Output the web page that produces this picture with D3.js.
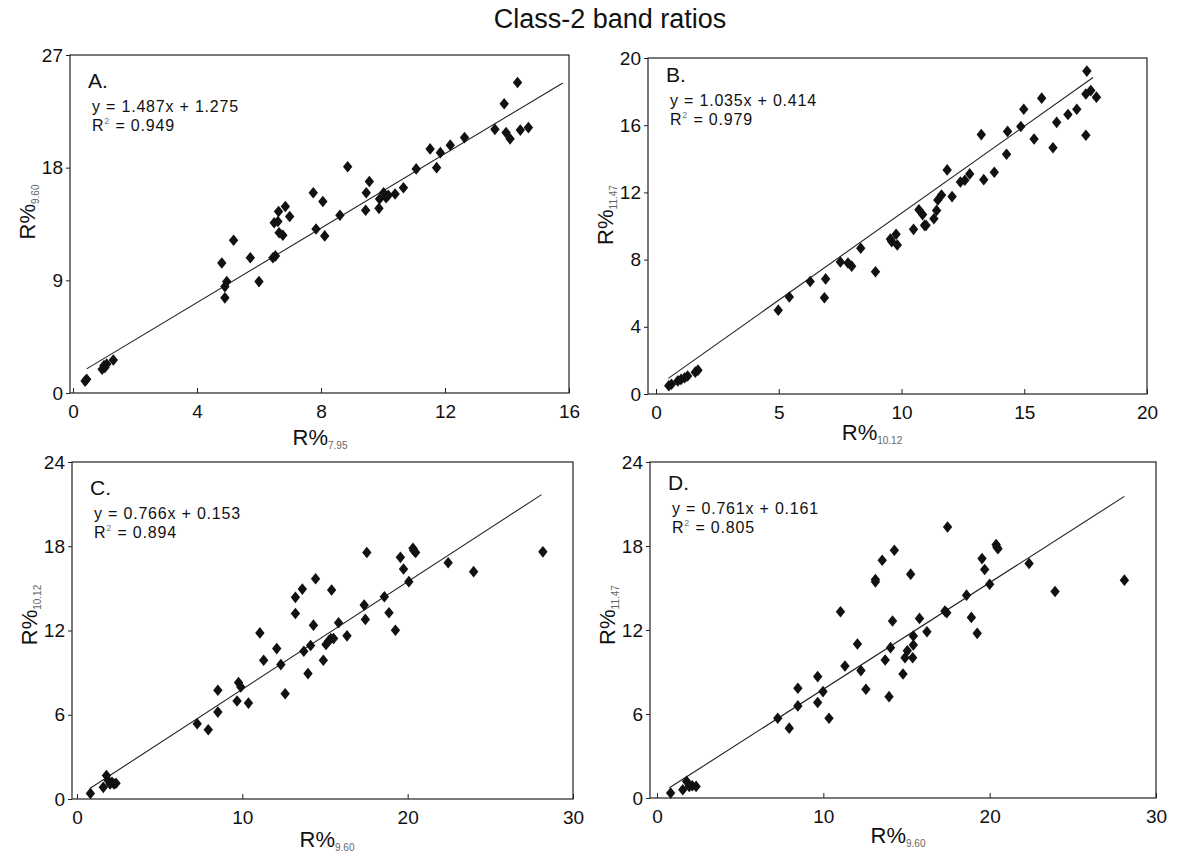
<!DOCTYPE html>
<html>
<head>
<meta charset="utf-8">
<script src="https://cdn.jsdelivr.net/npm/d3@7"></script>
<style>
  body { margin: 0; background: #fff; }
  svg text { font-family: "Liberation Sans", Arial, sans-serif; fill: #111; }
</style>
</head>
<body>
<div id="chart"></div>
<script>
// points, [x, y] in R%
const pointsA = [[0.39,0.95],[0.44,1.09],[0.94,1.9],[1.0,2.2],[1.03,2.04],[1.09,2.31],[1.3,2.64],
  [4.8,10.38],[4.9,8.5],[4.96,8.9],[4.9,7.6],[5.18,12.2],[5.72,10.8],[6.0,8.9],[6.45,10.8],[6.53,10.95],
  [6.49,13.6],[6.61,13.7],[6.63,14.5],[6.65,12.8],[6.77,12.6],[6.85,14.9],[6.99,14.1],[7.75,16.0],
  [7.84,13.1],[8.06,15.3],[8.12,12.55],[8.61,14.2],[8.86,18.07],[9.44,14.6],[9.46,16.0],[9.56,16.9],
  [9.87,14.75],[9.89,15.5],[10.02,16.0],[10.1,15.6],[10.17,15.8],[10.39,15.9],[10.66,16.4],[11.07,17.9],
  [11.52,19.5],[11.73,18.0],[11.85,19.2],[12.17,19.8],[12.63,20.4],[13.61,21.06],[13.91,23.1],
  [13.97,20.8],[14.1,20.3],[14.34,24.8],[14.43,21.0],[14.69,21.2]];

const pointsB = [[0.52,0.49],[0.63,0.58],[0.89,0.78],[1.02,0.87],[1.17,0.97],[1.29,1.07],[1.6,1.3],[1.71,1.42],
  [4.98,4.99],[5.43,5.77],[6.28,6.7],[6.86,5.73],[6.91,6.85],[7.51,7.86],[7.82,7.8],[7.97,7.61],[8.34,8.68],
  [8.94,7.28],[9.55,9.22],[9.6,9.07],[9.78,9.51],[9.83,8.87],[10.49,9.8],[10.71,10.97],[10.86,10.68],
  [10.94,10.04],[11.0,10.04],[11.32,10.43],[11.43,10.93],[11.48,11.55],[11.63,11.84],[11.86,13.34],
  [12.06,11.75],[12.4,12.62],[12.58,12.72],[12.78,13.1],[13.25,15.44],[13.35,12.76],[13.78,13.2],
  [14.28,14.27],[14.32,15.63],[14.86,15.92],[14.98,16.95],[15.4,15.18],[15.71,17.61],[16.17,14.66],
  [16.32,16.17],[16.78,16.64],[17.14,16.95],[17.51,15.4],[17.55,19.22],[17.51,17.86],[17.71,18.06],[17.94,17.67]];

const pointsC = [[0.81,0.4],[1.59,0.83],[1.78,1.67],[1.89,1.31],[2.0,1.07],[2.12,1.19],[2.24,1.07],[2.36,1.12],
  [7.27,5.36],[7.94,4.93],[8.52,7.74],[8.52,6.19],[9.68,6.98],[9.77,8.29],[9.91,7.98],[10.37,6.83],
  [11.06,11.83],[11.29,9.88],[12.08,10.71],[12.33,9.57],[12.59,7.5],[13.21,14.36],[13.21,13.21],
  [13.63,14.95],[13.72,10.52],[13.97,8.93],[14.13,10.93],[14.3,12.38],[14.43,15.69],[14.9,9.88],
  [15.06,11.0],[15.22,11.26],[15.36,11.43],[15.4,14.88],[15.52,11.43],[15.82,12.55],[16.33,11.62],
  [17.37,13.81],[17.44,12.79],[17.53,17.55],[18.59,14.4],[18.87,13.26],[19.26,12.02],[19.56,17.21],
  [19.75,16.38],[20.07,15.48],[20.32,17.86],[20.37,17.69],[20.48,17.55],[22.45,16.83],[23.99,16.19],[28.18,17.6]];

const pointsD = [[0.82,0.36],[1.55,0.59],[1.78,1.19],[1.94,0.83],[2.12,0.88],[2.35,0.83],
  [7.26,5.7],[7.95,4.99],[8.47,7.84],[8.47,6.58],[9.66,8.67],[9.66,6.82],[9.98,7.6],[10.34,5.7],
  [11.03,13.3],[11.3,9.43],[12.05,11.0],[12.26,9.1],[12.56,7.77],[13.13,15.6],[13.13,15.44],[13.54,16.98],
  [13.72,9.86],[13.95,7.24],[14.04,10.74],[14.16,12.64],[14.27,17.7],[14.79,8.86],[14.91,10.02],
  [15.05,10.52],[15.25,15.99],[15.37,10.02],[15.41,10.93],[15.41,11.57],[15.78,12.83],[16.23,11.88],
  [17.31,13.35],[17.42,13.23],[17.47,19.36],[18.61,14.49],[18.9,12.9],[19.25,11.76],[19.54,17.1],
  [19.7,16.32],[20.0,15.27],[20.39,18.1],[20.43,17.93],[20.5,17.81],[22.37,16.75],[23.93,14.75],[28.1,15.56]];

// regression fits printed on each panel
const slopes = [1.487, 1.035, 0.766, 0.761];
const intercepts = [1.275, 0.414, 0.153, 0.161];
const r2s = ["0.949", "0.979", "0.894", "0.805"];
const fitFrom = [0.44, 0.5, 0.8, 0.75];
const fitTo = [15.8, 17.8, 28.1, 28.1];

// axes
const xMax = [16, 20, 30, 30];
const yMax = [27, 20, 24, 24];
const xTicks = [[0,4,8,12,16], [0,5,10,15,20], [0,10,20,30], [0,10,20,30]];
const yTicks = [[0,9,18,27], [0,4,8,12,16,20], [0,6,12,18,24], [0,6,12,18,24]];
const letters = ["A.", "B.", "C.", "D."];
const xSub = ["7.95", "10.12", "9.60", "9.60"];
const ySub = ["9.60", "11.47", "10.12", "11.47"];
const title = "Class-2 band ratios";

// page layout (pixels)
const layout = [
  {l: 70, t: 55, r: 569, b: 393, x0: 73, xl: 320, xlb: 445, yl: 212, ly: 88},
  {l: 648, t: 58, r: 1147, b: 394, x0: 656, xl: 872, xlb: 440, yl: 215, ly: 82},
  {l: 72, t: 462, r: 573, b: 799, x0: 77, xl: 327, xlb: 847, yl: 615, ly: 495},
  {l: 650, t: 462, r: 1156, b: 798, x0: 657, xl: 898, xlb: 843, yl: 615, ly: 490}
];
const allPoints = [pointsA, pointsB, pointsC, pointsD];

const svg = d3.select("#chart").append("svg")
  .attr("width", 1189).attr("height", 855);

svg.append("text")
  .attr("x", 610).attr("y", 28)
  .attr("text-anchor", "middle")
  .attr("font-size", 27)
  .text(title);

const diamond = "M0,-5.8L4.7,0L0,5.8L-4.7,0Z";

layout.forEach(function (p, i) {
  const x = d3.scaleLinear().domain([0, xMax[i]]).range([p.x0, p.r]);
  const y = d3.scaleLinear().domain([0, yMax[i]]).range([p.b, p.t]);
  const g = svg.append("g");

  /* frame */
  g.append("rect")
    .attr("x", p.l).attr("y", p.t)
    .attr("width", p.r - p.l).attr("height", p.b - p.t)
    .attr("fill", "none").attr("stroke", "#222").attr("stroke-width", 1.2);

  /* axes */
  const xAxis = g.append("g")
    .attr("transform", `translate(0,${p.b})`)
    .call(d3.axisBottom(x).tickValues(xTicks[i]).tickSize(-5).tickPadding(12));
  const yAxis = g.append("g")
    .attr("transform", `translate(${p.l},0)`)
    .call(d3.axisLeft(y).tickValues(yTicks[i]).tickSize(4).tickPadding(3));
  [xAxis, yAxis].forEach(function (a) {
    a.select(".domain").remove();
    a.selectAll("line").attr("stroke", "#222");
    a.selectAll("text").attr("font-size", 19).attr("fill", "#111")
      .style("font-family", "'Liberation Sans', Arial, sans-serif");
  });

  /* regression line */
  g.append("line")
    .attr("x1", x(fitFrom[i])).attr("y1", y(slopes[i] * fitFrom[i] + intercepts[i]))
    .attr("x2", x(fitTo[i])).attr("y2", y(slopes[i] * fitTo[i] + intercepts[i]))
    .attr("stroke", "#222").attr("stroke-width", 1.1);

  /* points */
  g.selectAll(".pt")
    .data(allPoints[i])
    .enter()
    .append("path")
    .attr("class", "pt")
    .attr("d", diamond)
    .attr("transform", (d) => `translate(${x(d[0])},${y(d[1])})`)
    .attr("fill", "#111");

  /* panel letter + fit text */
  const tx = p.l + 20;
  g.append("text").attr("x", tx - 2).attr("y", p.ly)
    .attr("font-size", 21).text(letters[i]);
  g.append("text").attr("x", tx + 2).attr("y", p.ly + 24)
    .attr("font-size", 16).attr("letter-spacing", 0.8)
    .text(`y = ${slopes[i].toFixed(3)}x + ${intercepts[i].toFixed(3)}`);
  const r2 = g.append("text").attr("x", tx + 2).attr("y", p.ly + 43)
    .attr("font-size", 16).attr("letter-spacing", 0.8);
  r2.append("tspan").text("R");
  r2.append("tspan").attr("font-size", 9).attr("dy", -7).attr("fill", "#777").text("2");
  r2.append("tspan").attr("dy", 7).text(" = " + r2s[i]);

  /* axis titles */
  const xt = g.append("text").attr("x", p.xl).attr("y", p.xlb)
    .attr("text-anchor", "middle").attr("font-size", 22);
  xt.append("tspan").text("R%");
  xt.append("tspan").attr("font-size", 10).attr("dy", 4).attr("fill", "#666").text(xSub[i]);

  const yt = g.append("text")
    .attr("transform", `translate(${p.l - 35},${p.yl}) rotate(-90)`)
    .attr("text-anchor", "middle").attr("font-size", 22);
  yt.append("tspan").text("R%");
  yt.append("tspan").attr("font-size", 10).attr("dy", 4).attr("fill", "#666").text(ySub[i]);
});
</script>
</body>
</html>
